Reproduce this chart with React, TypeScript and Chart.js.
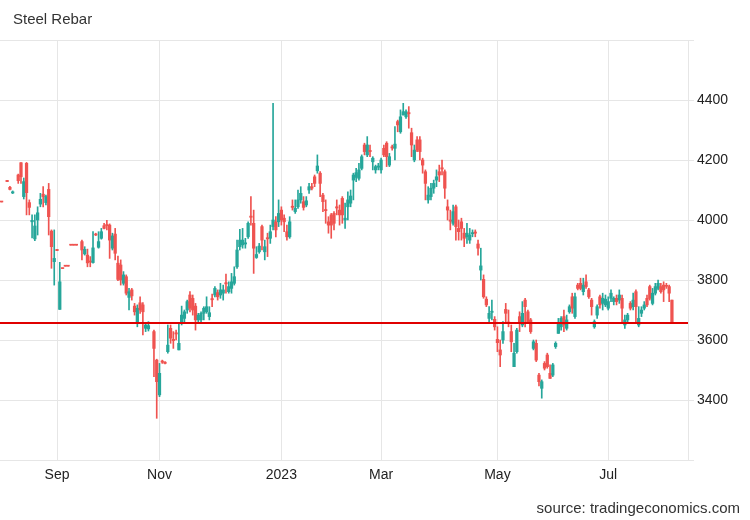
import React, { useEffect, useRef } from 'react';
import { Chart, registerables } from 'chart.js';

Chart.register(...registerables);

// trading-day number (0 = 1 Aug 2022) and OHLC values
const days = [
  3, 5, 6, 7, 9, 10, 11, 12, 13, 14, 15, 16, 17, 18, 19, 20, 21, 22, 23, 24,
  25, 26, 27, 28, 29, 30, 32, 33, 34, 35, 36, 37, 38, 39, 40, 41, 42, 43, 44, 45, 46, 47,
  48, 49, 50, 51, 52, 53, 54, 55, 56, 58, 59, 60, 61, 62, 63, 64, 65, 66, 67, 68,
  69, 70, 71, 72, 73, 74, 75, 76, 77, 78, 79, 80, 81, 82, 83, 84, 85, 86, 87, 88,
  89, 90, 91, 92, 93, 94, 95, 96, 97, 98, 99, 100, 101, 102, 103, 104, 105, 106, 107, 108,
  109, 110, 111, 112, 113, 114, 115, 116, 117, 118, 119, 120, 121, 122, 123, 124, 125, 126, 127, 128,
  129, 130, 131, 132, 133, 134, 135, 136, 137, 138, 139, 140, 141, 142, 143, 144, 145, 146, 147, 148,
  149, 150, 151, 152, 153, 154, 155, 156, 157, 158, 159, 160, 161, 162, 163, 164, 165, 166, 167, 168,
  169, 170, 171, 172, 173, 174, 175, 176, 177, 178, 179, 180, 181, 182, 183, 184, 185, 186, 187, 188,
  189, 190, 191, 192, 193, 194, 195, 196, 197, 198, 199, 200, 201, 202, 203, 204, 205, 206, 207, 208,
  209, 210, 211, 212, 213, 214, 215, 216, 217, 218, 219, 220, 221, 222, 223, 224, 225, 226, 227, 228,
  229, 230, 231, 232, 233, 234, 235, 236, 237, 238, 239, 240, 241, 242, 243, 244, 245,
];
const opens = [
  4060, 4132, 4109, 4090, 4150, 4191, 4078, 4189, 4058, 3994, 3937, 4000, 4053, 4086, 4058, 4102, 3963, 3861, 3902, 3702,
  3840, 3848, 3848, 3918, 3918, 3918, 3928, 3887, 3883, 3862, 3858, 3952, 3909, 3939, 3981, 3985, 3983, 3906, 3953, 3856, 3850, 3789,
  3811, 3742, 3767, 3713, 3656, 3724, 3717, 3639, 3637, 3628, 3533, 3417, 3530, 3526, 3561, 3639, 3602, 3624, 3567, 3656,
  3672, 3700, 3750, 3739, 3713, 3667, 3667, 3689, 3694, 3678, 3738, 3750, 3758, 3750, 3756, 3791, 3761, 3772, 3789, 3844,
  3911, 3917, 3920, 3944, 4013, 3989, 3875, 3894, 3978, 3894, 3941, 3939, 3978, 3994, 3994, 4033, 4006, 3961, 3944, 4046,
  4028, 4044, 4067, 4061, 4050, 4100, 4111, 4144, 4164, 4156, 4083, 4035, 3994, 4017, 4022, 4044, 4033, 4072, 4000, 4044,
  4056, 4133, 4142, 4139, 4172, 4250, 4217, 4232, 4194, 4167, 4176, 4167, 4239, 4256, 4183, 4244, 4239, 4328, 4294, 4350,
  4344, 4358, 4291, 4200, 4267, 4267, 4200, 4161, 4067, 4078, 4106, 4133, 4161, 4174, 4161, 4044, 4000, 3989, 4044, 3972,
  3994, 3956, 3944, 3933, 3954, 3960, 3920, 3833, 3802, 3736, 3672, 3692, 3669, 3602, 3567, 3600, 3702, 3660, 3628, 3511,
  3561, 3678, 3650, 3733, 3694, 3667, 3572, 3589, 3483, 3439, 3522, 3550, 3489, 3483, 3578, 3622, 3644, 3678, 3639, 3694,
  3744, 3678, 3783, 3789, 3761, 3794, 3767, 3733, 3644, 3683, 3744, 3722, 3717, 3706, 3739, 3728, 3739, 3733, 3739, 3650,
  3667, 3722, 3711, 3761, 3650, 3689, 3706, 3739, 3778, 3722, 3756, 3772, 3778, 3783, 3781, 3778, 3733,
];
const highs = [
  4060, 4132, 4112, 4097, 4153, 4191, 4140, 4192, 4067, 4017, 4017, 4044, 4089, 4111, 4083, 4122, 3967, 3967, 3902, 3859,
  3840, 3848, 3848, 3918, 3918, 3918, 3933, 3911, 3903, 3878, 3961, 3956, 3961, 3972, 3989, 3999, 3987, 3956, 3972, 3880, 3867, 3828,
  3817, 3772, 3772, 3722, 3717, 3744, 3725, 3656, 3661, 3633, 3536, 3522, 3533, 3528, 3650, 3650, 3628, 3633, 3656, 3713,
  3700, 3733, 3761, 3750, 3722, 3689, 3694, 3711, 3744, 3711, 3753, 3778, 3767, 3789, 3783, 3820, 3794, 3822, 3844, 3933,
  3969, 3972, 3939, 3994, 4078, 4033, 3911, 3922, 3983, 3933, 3956, 3983, 4389, 4011, 4067, 4044, 4017, 3983, 4011, 4067,
  4067, 4100, 4111, 4078, 4078, 4122, 4122, 4150, 4217, 4161, 4089, 4067, 4011, 4022, 4028, 4067, 4050, 4078, 4056, 4094,
  4100, 4156, 4172, 4189, 4217, 4256, 4278, 4250, 4211, 4183, 4189, 4206, 4250, 4261, 4222, 4250, 4311, 4333, 4367, 4389,
  4367, 4378, 4306, 4250, 4278, 4278, 4206, 4167, 4111, 4122, 4133, 4167, 4183, 4200, 4167, 4067, 4033, 4050, 4050, 4000,
  4006, 3972, 3989, 3972, 3967, 3967, 3933, 3906, 3817, 3744, 3711, 3733, 3678, 3644, 3600, 3661, 3722, 3700, 3650, 3589,
  3639, 3694, 3728, 3739, 3700, 3672, 3600, 3600, 3489, 3467, 3528, 3556, 3517, 3522, 3594, 3672, 3678, 3700, 3683, 3717,
  3756, 3756, 3789, 3806, 3806, 3817, 3772, 3739, 3667, 3717, 3750, 3756, 3750, 3744, 3767, 3744, 3750, 3767, 3750, 3683,
  3689, 3728, 3756, 3767, 3711, 3711, 3728, 3750, 3783, 3772, 3789, 3800, 3789, 3794, 3789, 3783, 3733,
];
const lows = [
  4060, 4128, 4100, 4088, 4122, 4122, 4070, 4017, 4017, 3940, 3931, 3950, 4044, 4044, 4050, 3950, 3839, 3783, 3898, 3702,
  3838, 3846, 3846, 3916, 3916, 3916, 3867, 3883, 3844, 3844, 3856, 3948, 3906, 3936, 3970, 3967, 3872, 3900, 3867, 3798, 3783, 3783,
  3750, 3700, 3733, 3683, 3644, 3689, 3617, 3628, 3630, 3478, 3339, 3411, 3522, 3520, 3556, 3589, 3572, 3600, 3567, 3650,
  3661, 3689, 3694, 3683, 3633, 3661, 3661, 3667, 3689, 3667, 3711, 3744, 3733, 3739, 3733, 3756, 3756, 3756, 3783, 3839,
  3900, 3906, 3906, 3939, 3983, 3822, 3872, 3889, 3900, 3867, 3878, 3922, 3967, 3944, 3978, 3983, 3961, 3933, 3939, 4033,
  4022, 4039, 4056, 4033, 4044, 4089, 4100, 4111, 4156, 4078, 4028, 3989, 3956, 3939, 3967, 4017, 3983, 3989, 3972, 4000,
  4044, 4067, 4128, 4133, 4167, 4217, 4211, 4211, 4167, 4156, 4167, 4156, 4211, 4178, 4178, 4233, 4200, 4294, 4289, 4350,
  4339, 4306, 4211, 4194, 4228, 4200, 4156, 4067, 4056, 4067, 4089, 4111, 4128, 4150, 4072, 4000, 3967, 3983, 3933, 3933,
  3933, 3911, 3922, 3922, 3944, 3944, 3883, 3800, 3739, 3711, 3661, 3667, 3633, 3561, 3511, 3589, 3661, 3644, 3561, 3511,
  3556, 3628, 3644, 3644, 3656, 3622, 3567, 3528, 3447, 3406, 3500, 3506, 3472, 3478, 3572, 3622, 3633, 3628, 3633, 3689,
  3689, 3672, 3767, 3767, 3750, 3772, 3739, 3683, 3639, 3672, 3706, 3700, 3711, 3700, 3728, 3717, 3717, 3722, 3656, 3639,
  3656, 3700, 3700, 3656, 3644, 3678, 3700, 3711, 3733, 3717, 3750, 3767, 3756, 3728, 3772, 3728, 3656,
];
const closes = [
  4060, 4128, 4102, 4094, 4131, 4144, 4128, 4091, 4042, 3999, 3980, 4024, 4069, 4078, 4078, 4011, 3911, 3872, 3898, 3794,
  3838, 3846, 3846, 3916, 3916, 3916, 3900, 3902, 3857, 3860, 3907, 3950, 3928, 3961, 3972, 3981, 3933, 3947, 3889, 3802, 3800, 3817,
  3756, 3761, 3747, 3694, 3706, 3700, 3694, 3650, 3648, 3572, 3461, 3489, 3526, 3522, 3583, 3606, 3598, 3620, 3589, 3683,
  3694, 3728, 3706, 3700, 3667, 3683, 3689, 3706, 3711, 3691, 3734, 3772, 3744, 3767, 3767, 3787, 3778, 3794, 3811, 3900,
  3933, 3933, 3924, 3989, 4009, 3906, 3885, 3913, 3933, 3911, 3937, 3961, 4000, 3967, 4022, 4000, 3994, 3944, 3994, 4042,
  4039, 4067, 4089, 4042, 4064, 4111, 4106, 4122, 4180, 4122, 4061, 4031, 3983, 3983, 3989, 4040, 4017, 4017, 4006, 4067,
  4080, 4150, 4158, 4167, 4211, 4228, 4250, 4228, 4206, 4178, 4180, 4200, 4217, 4211, 4211, 4240, 4253, 4317, 4344, 4361,
  4361, 4354, 4250, 4233, 4233, 4228, 4183, 4122, 4083, 4106, 4122, 4144, 4150, 4170, 4106, 4033, 3996, 4028, 3978, 3961,
  3972, 3939, 3956, 3950, 3958, 3956, 3906, 3847, 3744, 3717, 3689, 3696, 3644, 3591, 3550, 3628, 3689, 3656, 3594, 3556,
  3633, 3661, 3689, 3711, 3661, 3628, 3594, 3533, 3461, 3461, 3506, 3511, 3472, 3517, 3589, 3656, 3672, 3650, 3667, 3711,
  3706, 3744, 3772, 3772, 3783, 3778, 3744, 3711, 3661, 3711, 3717, 3739, 3736, 3728, 3756, 3739, 3728, 3750, 3706, 3667,
  3683, 3706, 3733, 3711, 3672, 3700, 3717, 3717, 3739, 3756, 3778, 3789, 3761, 3767, 3779, 3756, 3658,
];

const monthTicks = [23, 60, 104, 140, 182, 222];
const monthLabels = ['Sep', 'Nov', '2023', 'Mar', 'May', 'Jul'];
const yMin = 3200;
const yMax = 4600;
const yStep = 200;
const dayMin = 2.42;
const dayMax = 250.8;

const UP = '#26a69a';
const DOWN = '#ef5350';
const FONT = '"Liberation Sans", Arial, sans-serif';

export default function App() {
  const ref = useRef<HTMLCanvasElement | null>(null);

  useEffect(() => {
    if (!ref.current) return;
    const colorAt = (k: number) => (closes[k] > opens[k] ? UP : DOWN);

    const textPlugin = {
      id: 'texts',
      afterDraw(chart: any) {
        const ctx = chart.ctx;
        ctx.save();
        ctx.fillStyle = '#333';
        ctx.font = `15px ${FONT}`;
        ctx.textAlign = 'left';
        ctx.textBaseline = 'alphabetic';
        ctx.fillText('Steel Rebar', 13, 24);
        ctx.textAlign = 'right';
        ctx.fillText('source: tradingeconomics.com', 740, 513);
        ctx.restore();
      },
    };

    const lastLine = {
      id: 'lastLine',
      afterDatasetsDraw(chart: any) {
        const { ctx, chartArea } = chart;
        const y = Math.round(chart.scales.y.getPixelForValue(closes[closes.length - 1]));
        ctx.save();
        ctx.strokeStyle = '#e00000';
        ctx.lineWidth = 2;
        ctx.beginPath();
        ctx.moveTo(chartArea.left, y);
        ctx.lineTo(chartArea.right, y);
        ctx.stroke();
        ctx.restore();
      },
    };

    const chart = new Chart(ref.current, {
      type: 'bar',
      data: {
        datasets: [
          {
            data: days.map((d, k) => ({ x: d, y: [lows[k], highs[k]] })) as any,
            backgroundColor: (c: any) => colorAt(c.dataIndex),
            barThickness: 1,
            grouped: false,
            order: 2,
          },
          {
            data: days.map((d, k) => ({ x: d, y: [opens[k], closes[k]] })) as any,
            backgroundColor: (c: any) => colorAt(c.dataIndex),
            barThickness: 2.6,
            minBarLength: 1,
            grouped: false,
            order: 1,
          },
        ],
      },
      options: {
        responsive: false,
        animation: false,
        events: [],
        layout: { padding: { top: 40, left: 0, right: 0, bottom: 0 } },
        plugins: { legend: { display: false }, tooltip: { enabled: false }, title: { display: false } },
        scales: {
          x: {
            type: 'linear',
            offset: false,
            min: dayMin,
            max: dayMax,
            afterBuildTicks: (axis: any) => {
              axis.ticks = monthTicks.map((v) => ({ value: v }));
            },
            afterFit: (s: any) => {
              s.height = 60;
            },
            ticks: {
              autoSkip: false,
              maxRotation: 0,
              padding: 7,
              color: '#222',
              font: { family: FONT, size: 14 },
              callback: (v: any) => {
                const i = monthTicks.indexOf(Number(v));
                return i >= 0 ? monthLabels[i] : '';
              },
            },
            grid: { color: '#e6e6e6', drawTicks: false, offset: false },
            border: { display: true, color: '#e6e6e6' },
          },
          y: {
            position: 'right',
            min: yMin,
            max: yMax,
            afterFit: (s: any) => {
              s.width = 62;
            },
            ticks: {
              stepSize: yStep,
              padding: 3,
              color: '#222',
              font: { family: FONT, size: 14 },
              callback: (v: any) => (v === yMin || v === yMax ? '' : String(v)),
            },
            grid: { color: '#e6e6e6', tickLength: 6 },
            border: { display: true, color: '#e6e6e6' },
          },
        },
      },
      plugins: [textPlugin, lastLine],
    } as any);

    return () => chart.destroy();
  }, []);

  return (
    <div style={{ position: 'absolute', left: 0, top: 0, width: 750, height: 520, background: '#fff' }}>
      <canvas ref={ref} width={750} height={520} />
    </div>
  );
}
